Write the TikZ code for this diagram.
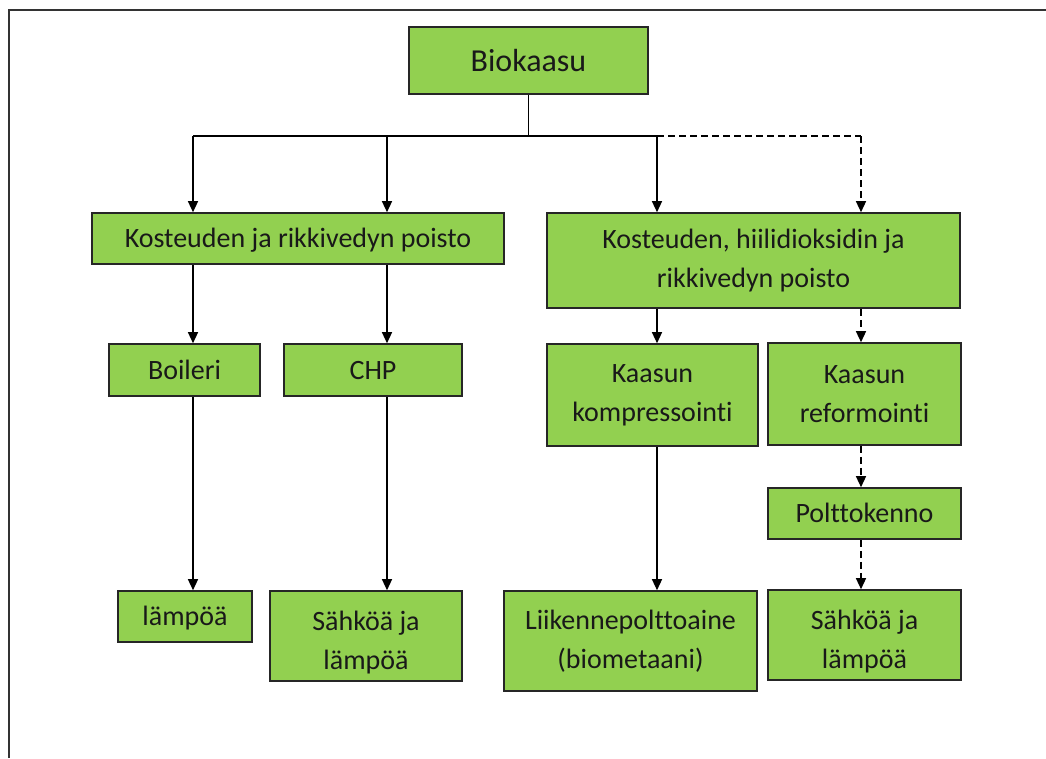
\documentclass[tikz,border=0pt]{standalone}
\usepackage{fontspec}
\setmainfont{Carlito}[Ligatures=NoCommon]
\usetikzlibrary{arrows.meta}
\definecolor{boxgreen}{HTML}{92D050}
\definecolor{edge}{HTML}{262626}
% extra head room on the first line of the taller output boxes
\newcommand{\toproom}{\rule{0pt}{33pt}}
\begin{document}
\begin{tikzpicture}[x=1pt,y=-1pt,
  box/.style={draw=edge, line width=1.6pt, fill=boxgreen, inner sep=0pt,
    align=center, text=black!90, font=\fontsize{28}{39}\selectfont},
  one/.style={text height=24pt, text depth=6pt},
  link/.style={line width=1.3pt, draw=black},
  arr/.style={link, -{Triangle[width=10pt,length=11pt]}},
  dsh/.style={dash pattern=on 7pt off 4pt},
  frame/.style={line width=2pt, draw=black!80}]
\useasboundingbox (0,0) rectangle (1046,758);

% outer frame (open to the right and bottom)
\draw[frame] (8.5,758) -- (8.5,10) -- (1046,10);

% boxes
\node[box, minimum width=239pt, minimum height=67pt,
      font=\fontsize{32}{38}\selectfont] (bio) at (528.5,60.5) {Biokaasu};
\node[box, one, minimum width=412pt, minimum height=51pt] (k1) at (298,238.5)
  {Kosteuden ja rikkivedyn poisto};
\node[box, minimum width=413pt, minimum height=95pt] (k2) at (753.5,260.5)
  {Kosteuden, hiilidioksidin ja\\rikkivedyn poisto};
\node[box, one, minimum width=151pt, minimum height=52pt] (boil) at (184.5,370) {Boileri};
\node[box, one, minimum width=178pt, minimum height=52pt] (chp) at (373,370) {CHP};
\node[box, minimum width=211pt, minimum height=102pt] (komp) at (652.5,395)
  {Kaasun\\kompressointi};
\node[box, minimum width=193pt, minimum height=102pt] (ref) at (864.5,394)
  {Kaasun\\reformointi};
\node[box, one, minimum width=193pt, minimum height=51pt] (polt) at (864.5,513.5) {Polttokenno};
\node[box, one, minimum width=134pt, minimum height=51pt] (lam) at (185,616.5) {lämpöä};
\node[box, minimum width=192pt, minimum height=90pt] (sl1) at (366,636)
  {\toproom Sähköä ja\\lämpöä};
\node[box, minimum width=253pt, minimum height=100pt] (liik) at (630.5,641)
  {Liikennepolttoaine\\(biometaani)};
\node[box, minimum width=193pt, minimum height=90pt] (sl2) at (864.5,635)
  {\toproom Sähköä ja\\lämpöä};

% distribution bus below Biokaasu
\coordinate (bus) at (528.5,136);
\coordinate (bL) at (193,136);
\coordinate (bM) at (387,136);
\coordinate (bR) at (657,136);
\coordinate (bD) at (861,136);

\draw[link] (bio.south) -- (bus);
\draw[link] (bL) -- (bR);
\draw[link,dsh] (bR) -- (bD);

\draw[arr] (bL) -- (bL |- k1.north);
\draw[arr] (bM) -- (bM |- k1.north);
\draw[arr] (bR) -- (bR |- k2.north);
\draw[arr,dsh] (bD) -- (bD |- k2.north);

% left branch
\draw[arr] (bL |- k1.south) -- (bL |- boil.north);
\draw[arr] (bL |- boil.south) -- (bL |- lam.north);
\draw[arr] (bM |- k1.south) -- (bM |- chp.north);
\draw[arr] (bM |- chp.south) -- (bM |- sl1.north);

% right branch
\draw[arr] (bR |- k2.south) -- (bR |- komp.north);
\draw[arr] (bR |- komp.south) -- (bR |- liik.north);
\draw[arr,dsh] (bD |- k2.south) -- (bD |- ref.north);
\draw[arr,dsh] (bD |- ref.south) -- (bD |- polt.north);
\draw[arr,dsh] (bD |- polt.south) -- (bD |- sl2.north);
\end{tikzpicture}
\end{document}
